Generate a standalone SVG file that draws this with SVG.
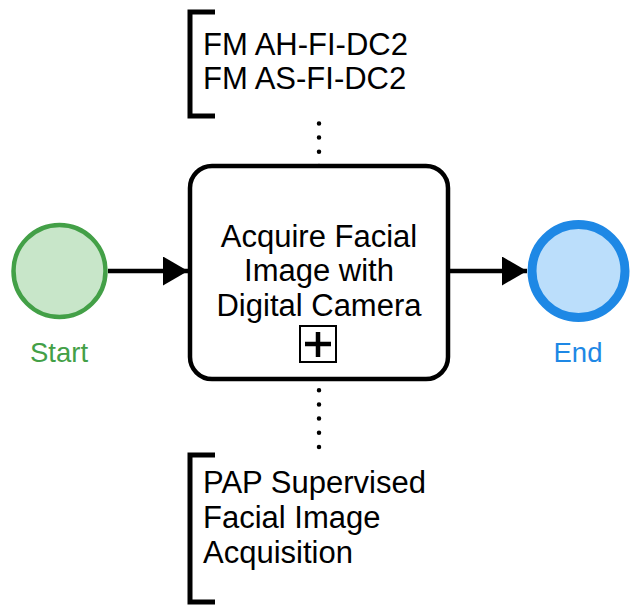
<svg xmlns="http://www.w3.org/2000/svg" width="638" height="608" viewBox="0 0 638 608">
<defs>
<style>
text{font-family:"Liberation Sans",Arial,sans-serif;}
.lbl{font-size:31px;fill:#000;}
.ev{font-size:27.5px;text-anchor:middle;}
.flow{stroke:#000;stroke-width:4.5;fill:none;}
.assoc{stroke:#000;stroke-width:4.5;fill:none;stroke-linecap:round;stroke-dasharray:0 14.2;}
.bracket{stroke:#000;stroke-width:5;fill:none;}
</style>
<marker id="arrow" viewBox="0 0 25 29" refX="25" refY="14.5" markerWidth="25" markerHeight="29" markerUnits="userSpaceOnUse" orient="auto">
<path d="M0,0 L25,14.5 L0,29 Z" fill="#000"/>
</marker>
</defs>
<g id="connectors">
<path class="flow" d="M108,271 H188" marker-end="url(#arrow)"/>
<path class="flow" d="M450,271 H527" marker-end="url(#arrow)"/>
<path class="assoc" d="M319,166 V118"/>
<path class="assoc" d="M319,376 V452"/>
</g>
<g id="start">
<circle cx="59.5" cy="271" r="46" fill="#c8e6c9" stroke="#43a047" stroke-width="4.5"/>
<text class="ev" x="59" y="362" fill="#43a047">Start</text>
</g>
<g id="task">
<rect x="190" y="166" width="258" height="213" rx="22" ry="22" fill="#fff" stroke="#000" stroke-width="4.5"/>
<text class="lbl" text-anchor="middle" x="319" y="247">Acquire Facial</text>
<text class="lbl" text-anchor="middle" x="319" y="281">Image with</text>
<text class="lbl" text-anchor="middle" x="319" y="316">Digital Camera</text>
<rect x="300" y="326" width="36" height="36" fill="#fff" stroke="#000" stroke-width="2"/>
<path d="M305,344 H331 M318,332 V357" stroke="#000" stroke-width="4.5" fill="none"/>
</g>
<g id="end">
<circle cx="578.5" cy="271" r="46.5" fill="#bbdefb" stroke="#1e88e5" stroke-width="9"/>
<text class="ev" x="578" y="362" fill="#1e88e5">End</text>
</g>
<g id="annotation-top">
<path class="bracket" d="M215,12 H190 V116 H215"/>
<text class="lbl" x="203" y="55">FM AH-FI-DC2</text>
<text class="lbl" x="203" y="89">FM AS-FI-DC2</text>
</g>
<g id="annotation-bottom">
<path class="bracket" d="M215,455 H190 V602 H215"/>
<text class="lbl" x="203" y="493">PAP Supervised</text>
<text class="lbl" x="203" y="528">Facial Image</text>
<text class="lbl" x="203" y="563">Acquisition</text>
</g>
</svg>
